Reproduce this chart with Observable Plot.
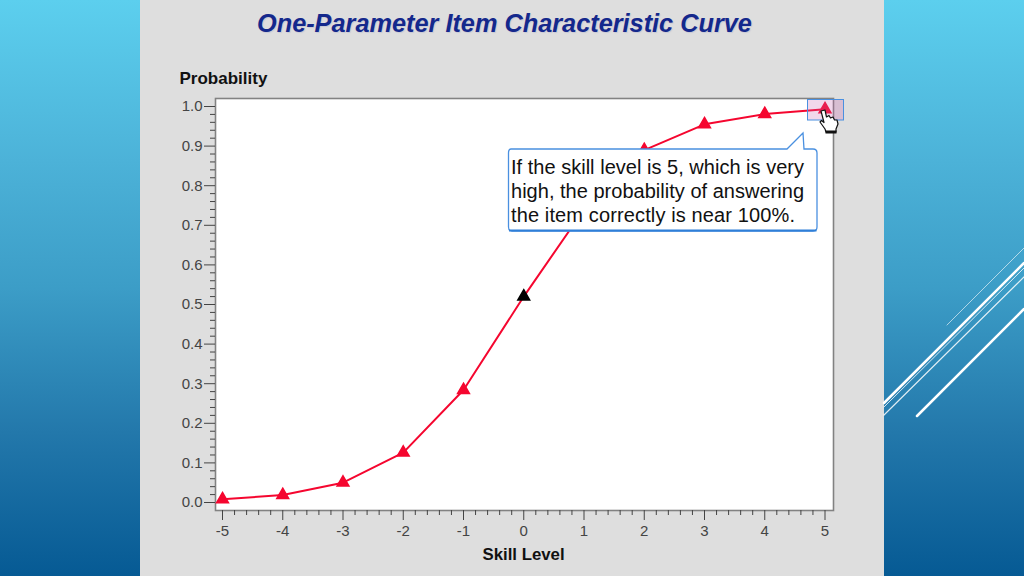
<!DOCTYPE html>
<html><head><meta charset="utf-8">
<script src="https://cdn.jsdelivr.net/npm/d3@7"></script>
<script src="https://cdn.jsdelivr.net/npm/@observablehq/plot@0.6"></script>
<style>
html,body{margin:0;padding:0;width:1024px;height:576px;overflow:hidden}
body{position:relative;background:linear-gradient(#5ccfee 0%,#4cb2d8 28%,#3c9dc7 50%,#2378ab 75%,#065a94 100%);font-family:"Liberation Sans",Arial,sans-serif}
#panel{position:absolute;left:140px;top:0;width:744px;height:576px;background:#dedede}
#title{position:absolute;left:257px;top:9px;white-space:nowrap;font:italic bold 25.3px "Liberation Sans",Arial,sans-serif;color:#14288c;text-shadow:1px 1px 1px #c8c8d4}
#chart{position:absolute;left:0;top:0}
#chart svg{background:transparent}
#over{position:absolute;left:0;top:0}
</style></head><body>
<div id="panel"></div>
<div id="title">One-Parameter Item Characteristic Curve</div>
<div id="chart"></div>
<svg id="over" width="1024" height="576" viewBox="0 0 1024 576" xmlns="http://www.w3.org/2000/svg">
  <g stroke="#fff" stroke-linecap="round">
    <path d="M947 325L1024 248" stroke-width="1" opacity=".6"/>
    <path d="M884 403L1024 263" stroke-width="2.5"/>
    <path d="M884 407L1024 268" stroke-width="1" opacity=".8"/>
    <path d="M884 415L1024 277" stroke-width="1.2" opacity=".85"/>
    <path d="M917 416L1024 309" stroke-width="2.5"/>
  </g>
  <rect x="807.5" y="99.5" width="36" height="20.5" fill="#c860b0" fill-opacity=".25" stroke="#4a90e0" stroke-width="1"/>
  <path d="M511 149H787L803 133L804 149H813Q817 149 817 153V227Q817 231 813 231H512Q508.500 231 508.500 227V153Q508.500 149 511 149Z" fill="#fff" stroke="#4a90e0" stroke-width="1.3"/>
  <path d="M509 230.500H816.500" stroke="#2f7fd8" stroke-width="2"/>
  <g font-family="'Liberation Sans',Arial,sans-serif" font-size="20" fill="#111">
    <text x="511" y="174" textLength="293" lengthAdjust="spacing">If the skill level is 5, which is very</text>
    <text x="511" y="198" textLength="293" lengthAdjust="spacing">high, the probability of answering</text>
    <text x="511" y="222" textLength="284" lengthAdjust="spacing">the item correctly is near 100%.</text>
  </g>
  <path d="M821 111L825 110L826.500 117L829 115.500L830.500 118L833 117L834.500 120L837 120L838 124L836 129V132H826L825 129L820 122L821.500 120.500L824 122.500Z" fill="#fff" stroke="#111" stroke-width="1.2" stroke-linejoin="round"/>
  <rect x="825.500" y="130.500" width="11" height="3" fill="#111"/>
</svg>
<script>
const skillLevels = [-5,-4,-3,-2,-1,0,1,2,3,4,5];
const probabilities = [0.008,0.019,0.05,0.126,0.284,0.52,0.74,0.89,0.955,0.981,0.993];
const xMajor = [-5,-4,-3,-2,-1,0,1,2,3,4,5];
const xMinor = d3.range(-50,51,2).map(d=>d/10).filter(d=>!Number.isInteger(d));
const yMajor = [0,0.1,0.2,0.3,0.4,0.5,0.6,0.7,0.8,0.9,1];
const yMinor = d3.range(0,101,2).map(d=>d/100).filter(d=>Math.round(d*100)%10!==0);
const selected = 0;
const rows = skillLevels.map((x,i)=>({x,y:probabilities[i]}));

const plot = Plot.plot({
  width:1024,height:576,
  marginLeft:215,marginRight:191,marginTop:98,marginBottom:66,
  x:{domain:[-5,5],insetLeft:7,insetRight:8.5},
  y:{domain:[0,1],insetTop:8,insetBottom:8},
  style:{background:"transparent",fontFamily:"'Liberation Sans',Arial,sans-serif",fontSize:"15px",color:"#444"},
  marks:[
    Plot.frame({fill:"#fff",stroke:"#828282",strokeWidth:1.6}),
    Plot.axisY(yMinor,{tickSize:5,text:null,stroke:"#444",label:null}),
    Plot.axisY(yMajor,{tickSize:11,tickPadding:2,tickFormat:d3.format(".1f"),stroke:"#444",fill:"#444",label:null}),
    Plot.axisX(xMinor,{tickSize:5,text:null,stroke:"#444",label:null}),
    Plot.axisX(xMajor,{tickSize:10,tickPadding:5,tickFormat:d=>String(d),stroke:"#444",fill:"#444",label:null}),
    Plot.line(rows,{x:"x",y:"y",stroke:"#f5062f",strokeWidth:2}),
    Plot.dot(rows,{x:"x",y:"y",symbol:"triangle",r:4.4,fill:d=>d.x===selected?"#000":"#f5062f",stroke:d=>d.x===selected?"#000":"#f5062f"}),
    Plot.text(["Probability"],{frameAnchor:"top-left",dx:-36,dy:-27,textAnchor:"start",fontWeight:"bold",fontSize:17,fill:"#111"}),
    Plot.text(["Skill Level"],{frameAnchor:"bottom",dx:-1,dy:49,fontWeight:"bold",fontSize:16.8,fill:"#111"})
  ]
});
document.getElementById("chart").appendChild(plot);
</script>
</body></html>
